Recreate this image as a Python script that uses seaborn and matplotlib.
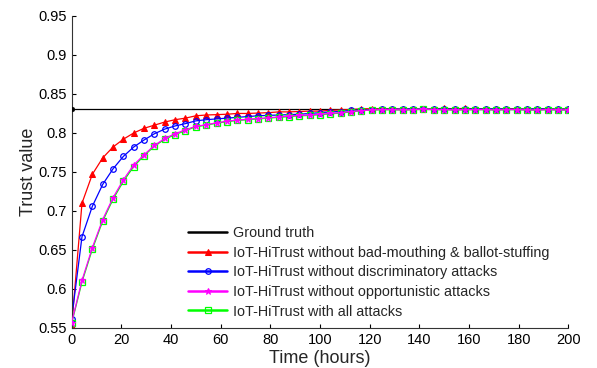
import numpy as np
import pandas as pd
import matplotlib
matplotlib.use("Agg")
import matplotlib.pyplot as plt
import seaborn as sns

# tiempo (horas): 49 muestras de 0 a 200
hours = np.linspace(0, 200, 49)

ground_truth = 0.831

no_badmouth = [0.552, 0.710, 0.747, 0.768, 0.782, 0.792, 0.800, 0.806, 0.810, 0.814,
               0.817, 0.819, 0.822, 0.823, 0.8235, 0.824, 0.825, 0.825, 0.8255, 0.826,
               0.827, 0.827, 0.8275, 0.828, 0.828, 0.829, 0.8295, 0.830, 0.831, 0.831,
               0.831, 0.831, 0.8305, 0.831, 0.8305, 0.831, 0.8315, 0.831, 0.8315, 0.831,
               0.831, 0.8305, 0.831, 0.831, 0.8305, 0.831, 0.831, 0.8305, 0.831]

no_discrim = [0.562, 0.667, 0.706, 0.734, 0.754, 0.770, 0.782, 0.791, 0.799, 0.805,
              0.809, 0.812, 0.8155, 0.817, 0.818, 0.819, 0.820, 0.821, 0.822, 0.8225,
              0.823, 0.8235, 0.824, 0.825, 0.826, 0.827, 0.8275, 0.829, 0.8295, 0.830,
              0.8305, 0.8305, 0.8305, 0.831, 0.8305, 0.8305, 0.831, 0.8305, 0.8305, 0.831,
              0.8305, 0.831, 0.8305, 0.8305, 0.8305, 0.831, 0.8305, 0.8305, 0.8305]

no_opport = [0.557, 0.611, 0.653, 0.689, 0.717, 0.740, 0.759, 0.772, 0.784, 0.793,
             0.799, 0.804, 0.8085, 0.8105, 0.813, 0.815, 0.8165, 0.8175, 0.8185, 0.8195,
             0.8205, 0.8215, 0.8225, 0.823, 0.824, 0.825, 0.826, 0.8275, 0.8285, 0.8295,
             0.830, 0.830, 0.8295, 0.830, 0.8305, 0.830, 0.830, 0.8295, 0.830, 0.830,
             0.830, 0.8295, 0.830, 0.830, 0.8295, 0.8295, 0.830, 0.8295, 0.8295]

all_attacks = [0.556, 0.609, 0.651, 0.687, 0.715, 0.738, 0.757, 0.771, 0.783, 0.792,
               0.798, 0.803, 0.808, 0.810, 0.8125, 0.8145, 0.816, 0.817, 0.818, 0.819,
               0.820, 0.821, 0.822, 0.8225, 0.8235, 0.8245, 0.8255, 0.827, 0.8285, 0.8295,
               0.830, 0.830, 0.8295, 0.830, 0.8305, 0.830, 0.830, 0.8295, 0.830, 0.830,
               0.830, 0.8295, 0.830, 0.830, 0.8295, 0.8295, 0.830, 0.8295, 0.8295]

labels = ['Ground truth',
          'IoT-HiTrust without bad-mouthing & ballot-stuffing',
          'IoT-HiTrust without discriminatory attacks',
          'IoT-HiTrust without opportunistic attacks',
          'IoT-HiTrust with all attacks']

sns.set_style("ticks")
plt.rcParams['font.family'] = ['Liberation Sans', 'DejaVu Sans']
plt.rcParams['xtick.direction'] = 'in'
plt.rcParams['ytick.direction'] = 'in'

fig = plt.figure(figsize=(5.97, 3.68), dpi=100)
ax = fig.add_axes([0.120, 0.1087, 0.832, 0.848])

df = pd.DataFrame({'t': hours, 'gt': [ground_truth] * len(hours),
                   'r': no_badmouth, 'b': no_discrim, 'm': no_opport, 'g': all_attacks})

sns.lineplot(data=df, x='t', y='gt', ax=ax, color='black', lw=0.9, label=labels[0])
# punto negro al inicio de la verdad
sns.scatterplot(x=hours[:1], y=[ground_truth], ax=ax, color='black', s=12,
                edgecolor='black', legend=False, zorder=5)
sns.lineplot(data=df, x='t', y='r', ax=ax, color='#ff0000', lw=0.9, label=labels[1],
             marker='^', markersize=4, markeredgecolor='#ff0000', markerfacecolor='#ff0000')
sns.lineplot(data=df, x='t', y='b', ax=ax, color='#0000ff', lw=0.9, label=labels[2],
             marker='o', markersize=4, markeredgecolor='#0000ff', markerfacecolor='none',
             markeredgewidth=0.9)
sns.lineplot(data=df, x='t', y='m', ax=ax, color='#ff00ff', lw=0.9, label=labels[3],
             marker='*', markersize=5, markeredgecolor='#ff00ff', markerfacecolor='#ff00ff',
             zorder=3)
sns.lineplot(data=df, x='t', y='g', ax=ax, color='#00ff00', lw=0.9, label=labels[4],
             marker='s', markersize=4, markeredgecolor='#00ff00', markerfacecolor='none',
             markeredgewidth=0.9, zorder=2.5)

ax.set_xlim(0, 200)
ax.set_ylim(0.55, 0.95)
ax.set_xticks(np.arange(0, 201, 20))
ax.set_yticks([0.55, 0.6, 0.65, 0.7, 0.75, 0.8, 0.85, 0.9, 0.95])
ax.set_yticklabels(['0.55', '0.6', '0.65', '0.7', '0.75', '0.8', '0.85', '0.9', '0.95'])
ax.tick_params(labelsize=10.5, length=3, width=0.8, colors='black')
ax.set_xlabel('Time (hours)', fontsize=13, labelpad=2)
ax.set_ylabel('Trust value', fontsize=13, labelpad=1)
sns.despine(ax=ax)
for s in ['left', 'bottom']:
    ax.spines[s].set_color('#333333')
    ax.spines[s].set_linewidth(0.8)

leg = ax.legend(loc='upper left', bbox_to_anchor=(188 / 597, 1 - 226 / 368),
                bbox_transform=fig.transFigure, frameon=False, fontsize=10.4,
                handlelength=2.7, handletextpad=0.4, labelspacing=0.39,
                borderpad=0, borderaxespad=0)
for h in leg.get_lines():
    h.set_linewidth(1.8)

fig.savefig('out.png', dpi=100)
